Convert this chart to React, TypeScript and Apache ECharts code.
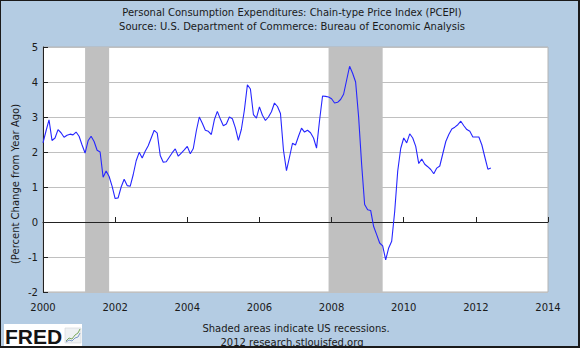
import React, { useEffect, useRef } from "react";
import * as echarts from "echarts";

// Monthly PCEPI, percent change from year ago (Jan..Dec)
const pce2000 = [2.26, 2.6, 2.92, 2.33, 2.4, 2.64, 2.55, 2.42, 2.48, 2.51, 2.49, 2.57];
const pce2001 = [2.45, 2.2, 1.97, 2.32, 2.45, 2.3, 2.05, 2.0, 1.28, 1.46, 1.3, 1.02];
const pce2002 = [0.67, 0.69, 1.0, 1.22, 1.04, 1.02, 1.35, 1.75, 1.99, 1.83, 2.02, 2.18];
const pce2003 = [2.4, 2.62, 2.54, 1.9, 1.71, 1.72, 1.85, 1.98, 2.09, 1.88, 1.97, 2.06];
const pce2004 = [2.16, 1.95, 2.1, 2.6, 3.0, 2.82, 2.62, 2.59, 2.5, 2.92, 3.16, 2.94];
const pce2005 = [2.75, 2.8, 3.0, 2.95, 2.69, 2.33, 2.65, 3.2, 3.92, 3.8, 3.07, 2.97];
const pce2006 = [3.29, 3.05, 2.9, 3.0, 3.15, 3.4, 3.3, 3.1, 2.05, 1.47, 1.85, 2.25];
const pce2007 = [2.2, 2.45, 2.68, 2.57, 2.62, 2.55, 2.4, 2.11, 2.9, 3.6, 3.59, 3.57];
const pce2008 = [3.52, 3.4, 3.42, 3.5, 3.65, 4.05, 4.45, 4.25, 4.0, 3.0, 1.65, 0.5];
const pce2009 = [0.35, 0.33, -0.13, -0.36, -0.6, -0.68, -1.08, -0.74, -0.55, 0.3, 1.45, 2.1];
const pce2010 = [2.4, 2.26, 2.52, 2.4, 2.16, 1.67, 1.8, 1.65, 1.58, 1.5, 1.38, 1.54];
const pce2011 = [1.6, 1.95, 2.3, 2.5, 2.66, 2.71, 2.78, 2.88, 2.75, 2.64, 2.59, 2.43];
const pce2012 = [2.43, 2.43, 2.2, 1.85, 1.51, 1.54];

const years = [2000, 2001, 2002, 2003, 2004, 2005, 2006, 2007, 2008, 2009, 2010, 2011, 2012];
const yearly = [pce2000, pce2001, pce2002, pce2003, pce2004, pce2005, pce2006, pce2007, pce2008, pce2009, pce2010, pce2011, pce2012];

// Recessions [start month, end month]
const recessions = [
  ["2001-03", "2001-11"],
  ["2007-12", "2009-06"],
];

const titleLines = [
  "Personal Consumption Expenditures: Chain-type Price Index (PCEPI)",
  "Source: U.S. Department of Commerce: Bureau of Economic Analysis",
];
const footLines = ["Shaded areas indicate US recessions.", "2012 research.stlouisfed.org"];
const yAxisName = "(Percent Change from Year Ago)";

const toDec = (s: string) => {
  const [y, m] = s.split("-").map(Number);
  return y + (m - 1) / 12;
};

const FONT = "DejaVu Sans";
const TXT = "#1a1a1a";

export default function App() {
  const ref = useRef<HTMLDivElement>(null);
  useEffect(() => {
    document.body.style.margin = "0";
    if (!ref.current) return;
    const chart = echarts.init(ref.current, undefined, { renderer: "svg" });
    const data: [number, number][] = [];
    yearly.forEach((arr, i) => arr.forEach((v, m) => data.push([years[i] + m / 12, v])));

    chart.setOption({
      animation: false,
      backgroundColor: "#b4cce3",
      grid: {
        left: 43,
        top: 47,
        right: 32,
        bottom: 56,
        show: true,
        backgroundColor: "#ffffff",
        borderColor: "#b4b4b4",
        borderWidth: 1,
      },
      xAxis: {
        type: "value",
        min: 2000,
        max: 2014,
        interval: 2,
        z: 3,
        axisLine: { show: true, lineStyle: { color: "#222", width: 1 } },
        axisTick: { show: true, inside: true, length: 5, lineStyle: { color: "#222" } },
        axisLabel: { color: TXT, fontFamily: FONT, fontSize: 10, margin: 10, formatter: (v: number) => String(v) },
        splitLine: { show: false },
      },
      yAxis: {
        type: "value",
        min: -2,
        max: 5,
        interval: 1,
        axisLine: { show: true, lineStyle: { color: "#222", width: 1 } },
        axisTick: { show: true, inside: true, length: 5, lineStyle: { color: "#222" } },
        axisLabel: { color: TXT, fontFamily: FONT, fontSize: 10, margin: 5 },
        splitLine: { show: true, lineStyle: { color: "#c0c0c0", width: 1 } },
      },
      series: [
        {
          type: "line",
          data,
          showSymbol: false,
          symbol: "none",
          lineStyle: { color: "#2626ff", width: 1.1 },
          markArea: {
            silent: true,
            itemStyle: { color: "#c0c0c0", opacity: 1 },
            data: recessions.map(([a, b]) => [{ xAxis: toDec(a) }, { xAxis: toDec(b) }]),
          },
        },
      ],
      graphic: [
        { type: "text", x: 292, y: 12, style: { text: titleLines[0], fill: TXT, font: `10px '${FONT}'`, align: "center", verticalAlign: "middle" } },
        { type: "text", x: 292, y: 26, style: { text: titleLines[1], fill: TXT, font: `10px '${FONT}'`, align: "center", verticalAlign: "middle" } },
        { type: "text", x: 296, y: 328, style: { text: footLines[0], fill: TXT, font: `10px '${FONT}'`, align: "center", verticalAlign: "middle" } },
        { type: "text", x: 292, y: 342, style: { text: footLines[1], fill: TXT, font: `10px '${FONT}'`, align: "center", verticalAlign: "middle" } },
        { type: "text", x: 15, y: 184, rotation: Math.PI / 2, style: { text: yAxisName, fill: TXT, font: `10px '${FONT}'`, align: "center", verticalAlign: "middle" } },
        {
          type: "group",
          children: [
            { type: "rect", shape: { x: 4, y: 324, width: 78, height: 22 }, style: { fill: "#ffffff" } },
            { type: "text", x: 5, y: 336, style: { text: "FRED", fill: "#141414", font: "bold 21px 'Liberation Sans'", verticalAlign: "middle" } },
            { type: "rect", shape: { x: 65, y: 328, width: 16, height: 15 }, style: { fill: "#eef1f3", stroke: "#d0d4d8", lineWidth: 0.6 } },
            { type: "polyline", shape: { points: [[66, 341], [69, 338], [72, 339], [75, 335], [78, 333], [80, 329]] }, style: { stroke: "#7aa860", lineWidth: 1, fill: null } },
            { type: "polyline", shape: { points: [[66, 342], [69, 340], [72, 341], [75, 338], [78, 337], [80, 333]] }, style: { stroke: "#7a98c8", lineWidth: 1, fill: null } },
          ],
        },
      ],
    });
    return () => chart.dispose();
  }, []);

  return (
    <div style={{ position: "relative", width: 580, height: 348 }}>
      <div ref={ref} style={{ width: 580, height: 348 }} />
      <div
        style={{
          position: "absolute",
          left: 0,
          top: 0,
          width: 580,
          height: 348,
          boxSizing: "border-box",
          borderTop: "1px solid #1a1a1a",
          borderLeft: "1px solid #1a1a1a",
          borderRight: "2px solid #1a1a1a",
          borderBottom: "2px solid #1a1a1a",
          pointerEvents: "none",
        }}
      />
    </div>
  );
}
